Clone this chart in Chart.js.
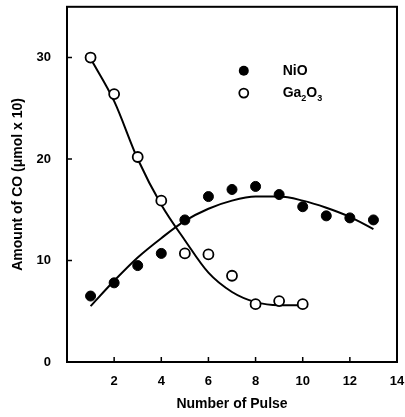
<!DOCTYPE html>
<html>
<head>
<meta charset="utf-8">
<script src="https://cdn.jsdelivr.net/npm/chart.js@4"></script>
<style>
  html, body { margin: 0; padding: 0; background: #fff; }
  #wrap { width: 405px; height: 417px; }
</style>
</head>
<body>
<div id="wrap"><canvas id="grafico" width="405" height="417"></canvas></div>
<script>
// Datos (CO por pulso)
const PULSOS_NIO = [1, 2, 3, 4, 5, 6, 7, 8, 9, 10, 11, 12, 13];
const CO_NIO = [6.5, 7.8, 9.5, 10.7, 14.0, 16.3, 17.0, 17.3, 16.5, 15.3, 14.4, 14.2, 14.0];

const PULSOS_GA = [1, 2, 3, 4, 5, 6, 7, 8, 9, 10];
const CO_GA = [30.0, 26.4, 20.2, 15.9, 10.7, 10.6, 8.5, 5.7, 6.0, 5.7];

// Curvas de ajuste dibujadas a mano en el original
const AJUSTE_NIO_X = [1, 2, 3, 4, 5, 6, 7, 8, 9, 10, 11, 12, 13];
const AJUSTE_NIO_Y = [5.5, 8.0, 10.3, 12.2, 13.9, 15.1, 15.9, 16.3, 16.3, 15.9, 15.2, 14.3, 13.1];
const AJUSTE_GA_X = [1, 2, 3, 4, 5, 6, 7, 8, 9, 10];
const AJUSTE_GA_Y = [29.9, 25.7, 20.0, 15.5, 12.0, 8.8, 6.9, 5.9, 5.6, 5.6];

const TICKS_X = [2, 4, 6, 8, 10, 12, 14];
const TICKS_Y = [0, 10, 20, 30];

const FUENTE = '"Liberation Sans", Arial, sans-serif';

const pares = (xs, ys) => xs.map((x, i) => ({ x, y: ys[i] }));

// Marco completo y marcas de eje hacia adentro, como en la figura
const marco = {
  id: 'marco',
  afterDatasetsDraw(chart) {
    const { ctx, chartArea: a, scales } = chart;
    ctx.save();
    ctx.strokeStyle = '#000';
    ctx.lineWidth = 2;
    ctx.strokeRect(a.left, a.top, a.right - a.left, a.bottom - a.top);
    ctx.lineWidth = 1.5;
    ctx.beginPath();
    for (const v of TICKS_X) {
      if (v >= 14) continue;
      const px = scales.x.getPixelForValue(v);
      ctx.moveTo(px, a.bottom);
      ctx.lineTo(px, a.bottom - 5);
    }
    for (const v of TICKS_Y) {
      if (v === 0) continue;
      const py = scales.y.getPixelForValue(v);
      ctx.moveTo(a.left, py);
      ctx.lineTo(a.left + 5, py);
    }
    ctx.stroke();
    ctx.restore();
  },
};

// Leyenda dentro del área, con subíndices en Ga2O3
const leyenda = {
  id: 'leyenda',
  afterDraw(chart) {
    const { ctx, scales } = chart;
    const mx = scales.x.getPixelForValue(7.5);
    const tx = scales.x.getPixelForValue(9.15);
    const y1 = scales.y.getPixelForValue(28.7);
    const y2 = scales.y.getPixelForValue(26.5);
    ctx.save();
    ctx.lineWidth = 1.8;
    ctx.strokeStyle = '#000';
    ctx.fillStyle = '#000';
    ctx.beginPath(); ctx.arc(mx, y1, 5, 0, Math.PI * 2); ctx.fill();
    ctx.beginPath(); ctx.arc(mx, y2, 4.5, 0, Math.PI * 2);
    ctx.fillStyle = '#fff'; ctx.fill(); ctx.stroke();
    ctx.fillStyle = '#000';
    ctx.textBaseline = 'middle';
    ctx.font = 'bold 14px ' + FUENTE;
    ctx.fillText('NiO', tx, y1);
    // Ga2O3 por partes
    let x = tx;
    const trozos = [['Ga', false], ['2', true], ['O', false], ['3', true]];
    for (const [t, sub] of trozos) {
      ctx.font = sub ? 'bold 9px ' + FUENTE : 'bold 14px ' + FUENTE;
      ctx.fillText(t, x, sub ? y2 + 5 : y2);
      x += ctx.measureText(t).width;
    }
    ctx.restore();
  },
};

new Chart(document.getElementById('grafico'), {
  type: 'scatter',
  data: {
    datasets: [
      { label: 'NiO', data: pares(PULSOS_NIO, CO_NIO), order: 0,
        pointRadius: 5, pointBackgroundColor: '#000', pointBorderColor: '#000', pointBorderWidth: 1 },
      { label: 'Ga2O3', data: pares(PULSOS_GA, CO_GA), order: 0,
        pointRadius: 5, pointBackgroundColor: '#fff', pointBorderColor: '#000', pointBorderWidth: 1.8 },
      { label: 'ajuste NiO', type: 'line', data: pares(AJUSTE_NIO_X, AJUSTE_NIO_Y), order: 1,
        borderColor: '#000', borderWidth: 2, pointRadius: 0, fill: false, cubicInterpolationMode: 'monotone' },
      { label: 'ajuste Ga2O3', type: 'line', data: pares(AJUSTE_GA_X, AJUSTE_GA_Y), order: 1,
        borderColor: '#000', borderWidth: 2, pointRadius: 0, fill: false, cubicInterpolationMode: 'monotone' },
    ],
  },
  options: {
    responsive: false,
    animation: false,
    layout: { padding: { top: 6, right: 8, left: 0, bottom: 0 } },
    plugins: { legend: { display: false }, tooltip: { enabled: false } },
    scales: {
      x: {
        type: 'linear', min: 0, max: 14,
        afterBuildTicks: (s) => { s.ticks = TICKS_X.map((v) => ({ value: v })); },
        afterFit: (s) => { s.height = 55; s.paddingLeft = 0; s.paddingRight = 0; },
        grid: { display: false, drawTicks: false },
        border: { display: false },
        ticks: { color: '#000', padding: 12, maxRotation: 0, font: { family: FUENTE, size: 13, weight: 'bold' } },
        title: { display: true, text: 'Number of Pulse', color: '#000', padding: { top: 8 },
          font: { family: FUENTE, size: 14, weight: 'bold' } },
      },
      y: {
        min: 0, max: 35,
        afterBuildTicks: (s) => { s.ticks = TICKS_Y.map((v) => ({ value: v })); },
        afterFit: (s) => { s.width = 67; s.paddingTop = 0; s.paddingBottom = 0; },
        grid: { display: false, drawTicks: false },
        border: { display: false },
        ticks: { color: '#000', padding: 16, font: { family: FUENTE, size: 13, weight: 'bold' } },
        title: { display: true, text: 'Amount of CO (μmol x 10)', color: '#000', padding: { top: 10, bottom: 0 },
          font: { family: FUENTE, size: 14, weight: 'bold' } },
      },
    },
  },
  plugins: [marco, leyenda],
});
</script>
</body>
</html>
